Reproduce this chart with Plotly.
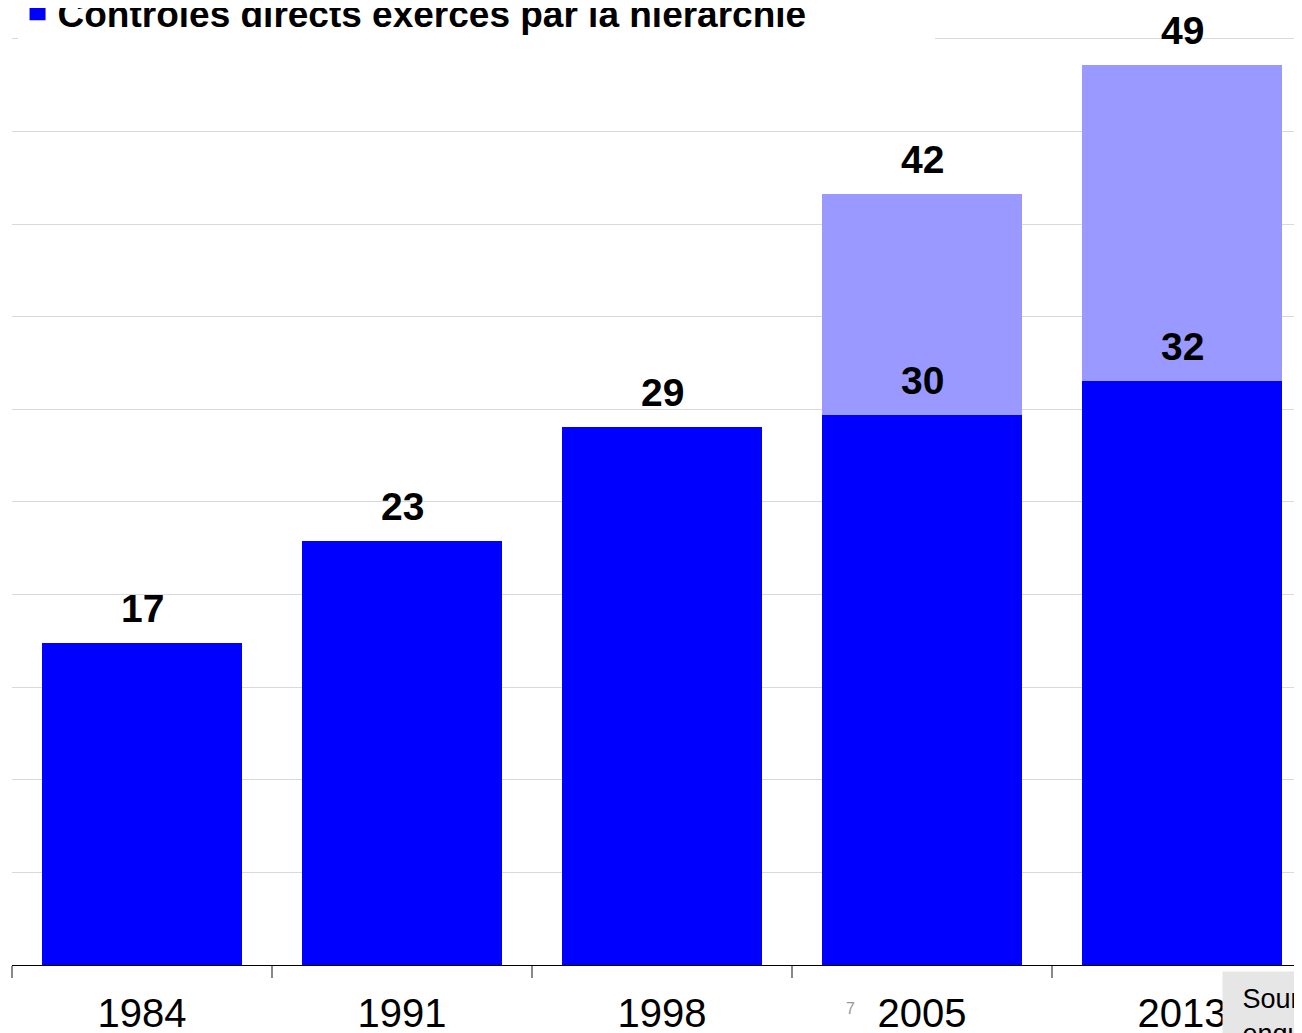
import plotly.graph_objects as go

years = ["1984", "1991", "1998", "2005", "2013"]
base_vals = [17.4, 22.9, 29.05, 29.7, 31.5]
extra_vals = [None, None, None, 11.9, 17.1]
base_labels = ["17", "23", "29", "30", "32"]
total_labels = [None, None, None, "42", "49"]
legend_name = "Contrôles directs exercés par la hiérarchie"
source_text = "&nbsp;Source :<br>&nbsp;enquêtes Conditions de travail, Dares"
note_text = "7"

FONT = "Arial, Liberation Sans, sans-serif"
DARK = "#0000FF"
LIGHT = "#9999FF"

fig = go.Figure()
fig.add_trace(go.Bar(x=years, y=base_vals, name=legend_name, marker_color=DARK,
                     marker_line_width=0, showlegend=False))
fig.add_trace(go.Bar(x=years, y=extra_vals, name="", marker_color=LIGHT,
                     marker_line_width=0, showlegend=False))
# legend-only entry (square swatch); trailing non-breaking spaces widen the white legend box
fig.add_trace(go.Scatter(x=[None], y=[None], mode="markers",
                         name=legend_name + "&nbsp;" * 12,
                         marker=dict(symbol="square", size=18, color=DARK), showlegend=True))

label_font = dict(family=FONT, size=39, color="black")
annotations = []
for i, (v, lab) in enumerate(zip(base_vals, base_labels)):
    annotations.append(dict(x=i, y=v, text="<b>" + lab + "</b>", showarrow=False,
                            yanchor="bottom", yshift=11, font=label_font))
for i, (v, e, lab) in enumerate(zip(base_vals, extra_vals, total_labels)):
    if lab is not None:
        annotations.append(dict(x=i, y=v + e, text="<b>" + lab + "</b>", showarrow=False,
                                yanchor="bottom", yshift=11, font=label_font))

annotations.append(dict(xref="paper", yref="paper", x=0.650, y=-0.0464, text=note_text,
                        showarrow=False, xanchor="center", yanchor="middle",
                        font=dict(family=FONT, size=16, color="#999999")))
annotations.append(dict(xref="paper", yref="paper", x=0.938, y=-0.0065, text=source_text,
                        showarrow=False, xanchor="left", yanchor="top", align="left",
                        bgcolor="#E6E6E6", borderpad=12,
                        font=dict(family=FONT, size=27, color="black")))

fig.update_layout(
    width=1294, height=1025,
    margin=dict(l=4, r=0, t=28.22, b=68, autoexpand=False),
    paper_bgcolor="white", plot_bgcolor="white",
    barmode="stack", bargap=60 / 260,
    font=dict(family=FONT, color="black"),
    showlegend=True,
    legend=dict(orientation="v", x=0.0043, xanchor="left", y=1.025, yanchor="middle",
                bgcolor="white", borderwidth=0,
                font=dict(family=FONT, size=37, color="black", weight="bold")),
    annotations=annotations,
    xaxis=dict(type="category", range=[-0.5, 4.5 - 10 / 260], showgrid=False, showline=True,
               linecolor="black", linewidth=1, ticks="outside", tickson="boundaries",
               ticklen=12, tickcolor="#888888", tickwidth=1.5, ticklabelstandoff=13,
               tickfont=dict(family=FONT, size=40, color="black")),
    yaxis=dict(range=[0, 50.15], dtick=5, showgrid=True, gridcolor="#D9D9D9", gridwidth=1,
               showticklabels=False, zeroline=False, showline=False, ticks=""),
)

fig.write_html("out.html")
